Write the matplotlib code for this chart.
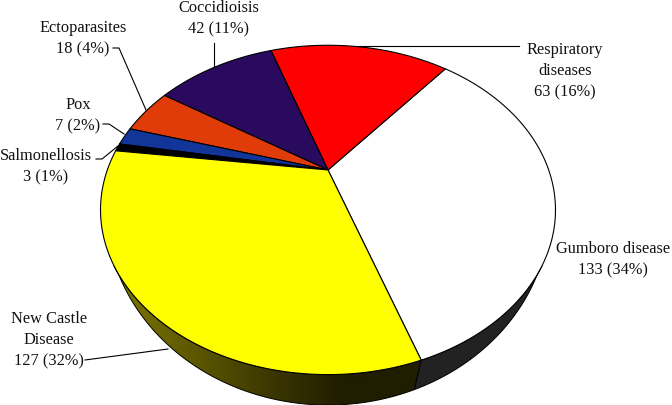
import numpy as np
import matplotlib
matplotlib.use('Agg')
import matplotlib.pyplot as plt
from matplotlib.patches import Polygon
from matplotlib.colors import LinearSegmentedColormap

# ---------- DATA ----------
names = ['Gumboro', 'Respiratory', 'Coccidioisis', 'Ectoparasites', 'Pox', 'Salmonellosis', 'New Castle']
counts = [133, 63, 42, 18, 7, 3, 127]
colors = ['#ffffff', '#ff0000', '#2a0a5e', '#e03c0a', '#12359a', '#000000', '#ffff00']

label_text = ['Gumboro disease\n133 (34%)', 'Respiratory\ndiseases\n63 (16%)', 'Coccidioisis\n42 (11%)',
              'Ectoparasites\n18 (4%)', 'Pox\n7 (2%)', 'Salmonellosis\n3 (1%)', 'New Castle\nDisease\n127 (32%)']
label_pos = [(613, 260), (565, 71), (219, 19), (83, 39), (78, 116), (46, 167), (49, 340)]

leaders = [
    [(358, 46), (519, 46)],
    [(214, 43), (214, 66)],
    [(113, 48), (119, 48), (146, 110)],
    [(103, 124), (109, 124), (124, 134)],
    [(96, 159), (102, 159), (118, 146)],
    [(85, 360), (168, 349)],
]

# ---------- GEOMETRY ----------
START = -71.0
K = 0.2424


def top_pt(t):
    u, v = np.cos(t), np.sin(t)
    w = 1 + K * v
    return 328 + 220.7 * u / w, 170 - 155 * v / w


def low_pt(t):
    u, v = np.cos(t), np.sin(t)
    w = 1 + K * v
    return 328 + 215.4 * u / w, 161.5 - 184.5 * v / w


def outside_top(x, y):
    return ((x - 328) / 227.5) ** 2 + ((y - 210) / 165) ** 2 > 1


def side_poly(t_top, t_low):
    x0, y0 = top_pt(t_top)
    x1, y1 = low_pt(t_low[::-1])
    return list(zip(x0, y0)) + list(zip(x1, y1))


# ---------- FIGURE ----------
plt.rcParams['font.family'] = ['Liberation Serif', 'DejaVu Serif']
fig = plt.figure(figsize=(6.72, 4.05), dpi=100)
ax = fig.add_axes([0, 0, 1, 1])
ax.axis('off')

edges = START + np.cumsum([0] + counts) / sum(counts) * 360

# side of the pie, only below the front rim
side_t = np.radians(np.arange(180, 360, 0.25))
vis_t = side_t[outside_top(*low_pt(side_t))]
seam_top = np.radians(edges[0] + 360)
seam_low = np.radians(edges[0] + 359)

yellow_top = np.linspace(vis_t[0], seam_top, 150)
yellow_low = np.linspace(vis_t[0], seam_low, 150)
gray_top = np.linspace(seam_top, vis_t[-1], 80)
gray_low = np.linspace(seam_low, vis_t[-1], 80)

yellow_side = Polygon(side_poly(yellow_top, yellow_low), fc='none', ec='black', lw=0.7, zorder=2)
ax.add_patch(yellow_side)
shade = LinearSegmentedColormap.from_list(
    'shade', [(0, '#7c7600'), (0.25, '#5c5700'), (0.5, '#3a3600'), (0.72, '#201d00'), (1, '#201d00')])
img = ax.imshow(np.linspace(0, 1, 256).reshape(1, -1), cmap=shade, aspect='auto',
                extent=(117, 430, 405, 260), zorder=1)
img.set_clip_path(yellow_side)
ax.add_patch(Polygon(side_poly(gray_top, gray_low), fc='#222222', ec='black', lw=0.7, zorder=2))

# top face
for i, name in enumerate(names):
    arc = np.radians(np.linspace(edges[i], edges[i + 1], 120))
    x, y = top_pt(arc)
    pts = [(328, 170)] + list(zip(x, y))
    ax.add_patch(Polygon(pts, fc=colors[i], ec='black', lw=0.8, joinstyle='round', zorder=3))

for seg in leaders:
    ax.plot(*zip(*seg), color='black', lw=0.8, zorder=4)

for txt, (x, y) in zip(label_text, label_pos):
    ax.text(x, y, txt, ha='center', va='center', fontsize=11.8, color='#111111',
            linespacing=1.42, zorder=5)

ax.set_xlim(0, 672)
ax.set_ylim(405, 0)
fig.savefig('out.png', dpi=100)
